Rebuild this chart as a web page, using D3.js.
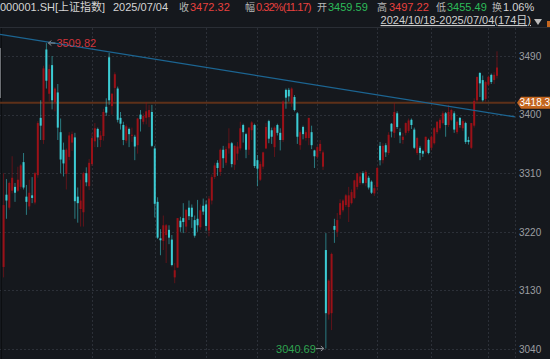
<!DOCTYPE html>
<html>
<head>
<meta charset="utf-8">
<script src="https://cdn.jsdelivr.net/npm/d3@7"></script>
<style>
body { margin: 0; background: #15181d; overflow: hidden; }
svg { display: block; }
text { font-family: "Liberation Sans", "Noto Sans CJK SC", sans-serif; }
</style>
</head>
<body>
<svg id="chart" width="550" height="359"></svg>
<script>
// trading days, 2024/10/18 - 2025/07/04
const dates = [
	'2024/10/18','2024/10/21','2024/10/22','2024/10/23','2024/10/24','2024/10/25','2024/10/28','2024/10/29','2024/10/30','2024/10/31',
	'2024/11/01','2024/11/04','2024/11/05','2024/11/06','2024/11/07','2024/11/08','2024/11/11','2024/11/12','2024/11/13','2024/11/14','2024/11/15',
	'2024/11/18','2024/11/19','2024/11/20','2024/11/21','2024/11/22','2024/11/25','2024/11/26','2024/11/27','2024/11/28','2024/11/29',
	'2024/12/02','2024/12/03','2024/12/04','2024/12/05','2024/12/06','2024/12/09','2024/12/10','2024/12/11','2024/12/12','2024/12/13','2024/12/16',
	'2024/12/17','2024/12/18','2024/12/19','2024/12/20','2024/12/23','2024/12/24','2024/12/25','2024/12/26','2024/12/27','2024/12/30','2024/12/31',
	'2025/01/02','2025/01/03','2025/01/06','2025/01/07','2025/01/08','2025/01/09','2025/01/10','2025/01/13','2025/01/14','2025/01/15','2025/01/16',
	'2025/01/17','2025/01/20','2025/01/21','2025/01/22','2025/01/23','2025/01/24','2025/01/27',
	'2025/02/05','2025/02/06','2025/02/07','2025/02/10','2025/02/11','2025/02/12','2025/02/13','2025/02/14','2025/02/17','2025/02/18','2025/02/19',
	'2025/02/20','2025/02/21','2025/02/24','2025/02/25','2025/02/26','2025/02/27','2025/02/28',
	'2025/03/03','2025/03/04','2025/03/05','2025/03/06','2025/03/07','2025/03/10','2025/03/11','2025/03/12','2025/03/13','2025/03/14','2025/03/17',
	'2025/03/18','2025/03/19','2025/03/20','2025/03/21','2025/03/24','2025/03/25','2025/03/26','2025/03/27','2025/03/28','2025/03/31',
	'2025/04/01','2025/04/02','2025/04/03','2025/04/07','2025/04/08','2025/04/09','2025/04/10','2025/04/11','2025/04/14','2025/04/15','2025/04/16',
	'2025/04/17','2025/04/18','2025/04/21','2025/04/22','2025/04/23','2025/04/24','2025/04/25','2025/04/28','2025/04/29','2025/04/30',
	'2025/05/06','2025/05/07','2025/05/08','2025/05/09','2025/05/12','2025/05/13','2025/05/14','2025/05/15','2025/05/16','2025/05/19','2025/05/20',
	'2025/05/21','2025/05/22','2025/05/23','2025/05/26','2025/05/27','2025/05/28','2025/05/29','2025/05/30',
	'2025/06/03','2025/06/04','2025/06/05','2025/06/06','2025/06/09','2025/06/10','2025/06/11','2025/06/12','2025/06/13','2025/06/16','2025/06/17',
	'2025/06/18','2025/06/19','2025/06/20','2025/06/23','2025/06/24','2025/06/25','2025/06/26','2025/06/27','2025/06/30',
	'2025/07/01','2025/07/02','2025/07/03','2025/07/04'
]

const opens = [
	3166,3277,3257,3283,3289,3283,3289,3327,3274,3259,
	3276,3265,3307,3395,3361,3500,3432,3476,3419,3434,3373,3346,3309,3335,3357,3365,3274,3255,3250,3310,3290,
	3324,3359,3378,3361,3367,3412,3488,3413,3441,3440,3395,3384,3360,3378,3368,3366,3353,3400,3389,3395,3396,3404,
	3348,3266,3210,3206,3215,3223,3208,3150,3165,3237,3241,3228,3257,3257,3238,3240,3227,3260,
	3262,3222,3268,3304,3326,3312,3346,3326,3348,3356,3323,3340,3348,3384,3370,3346,3376,3384,
	3330,3300,3320,3348,3390,3376,3350,3384,3372,3361,3438,3438,3418,3427,3402,3353,3381,3364,3364,3373,3345,
	3335,3344,3320,3192,3093,3095,3229,3220,3246,3253,3261,3258,3264,3272,3289,3295,3310,3295,3303,3297,3279,
	3289,3352,3330,3353,3341,3386,3372,3402,3373,3361,3372,3375,3392,3377,3341,3349,3344,3343,3361,
	3349,3356,3373,3379,3387,3402,3384,3392,3402,3373,3395,3379,3387,3361,3349,3383,3422,3464,3453,3424,
	3446,3461,3453,3459.59
]

const highs = [
	3310,3301,3297,3336,3295,3320,3324,3341,3292,3300,
	3304,3312,3390,3422,3475,3509.82,3477,3490,3442,3447,3394,3357,3348,3373,3374,3372,3288,3300,3312,3319,3332,
	3372,3387,3380,3375,3409,3425,3494.86,3433,3465,3443,3404,3389,3385,3380,3380,3369,3395,3407,3402,3419,3415,3415,
	3352,3273,3224,3245,3232,3230,3215,3172,3241,3243,3264,3254,3268,3262,3245,3269,3262,3271,
	3268,3275,3308,3326,3330,3348,3352,3351,3379,3358,3353,3358,3389,3386,3372,3381,3390,3386,
	3338,3328,3343,3387,3392,3380,3382,3386,3379,3422,3440,3441,3442,3430,3404,3376,3383,3376,3395,3383,3346,
	3352,3361,3345,3218,3147,3188,3240,3249,3270,3270,3278,3289,3285,3300,3310,3312,3313,3315,3306,3299,3292,
	3320,3358,3356,3356,3373,3387,3418,3405,3379,3372,3388,3394,3394,3380,3366,3352,3346,3366,3363,
	3368,3381,3390,3395,3405,3404,3415,3409,3405,3391,3396,3393,3389,3366,3387,3425,3458,3465,3460,3452,
	3460,3463,3465,3497.22
]

const lows = [
	3150,3240,3254,3279,3266,3281,3286,3285,3246,3254,
	3264,3262,3303,3361,3355,3440,3420,3408,3405,3361,3310,3305,3285,3330,3344,3240,3234,3228,3228,3290,3284,
	3321,3350,3350,3350,3360,3398,3415,3400,3421,3388,3377,3353,3356,3350,3358,3330,3340,3374,3385,3385,3381,3350,
	3242,3209,3184,3192,3172,3201,3167,3141,3165,3220,3218,3219,3238,3226,3211,3220,3223,3246,
	3221,3213,3262,3301,3306,3306,3318,3322,3340,3319,3315,3330,3345,3357,3333,3338,3361,3318,
	3290,3298,3316,3347,3356,3355,3335,3368,3345,3358,3409,3420,3412,3405,3355,3346,3362,3360,3353,3347,3318,
	3332,3340,3315,3040.69,3085,3069,3203,3212,3240,3250,3258,3235,3262,3270,3285,3292,3293,3290,3285,3278,3275,
	3283,3322,3325,3335,3338,3365,3364,3378,3356,3355,3368,3372,3378,3347,3338,3330,3335,3340,3339,
	3345,3354,3370,3376,3385,3366,3381,3390,3372,3370,3380,3375,3355,3354,3347,3380,3418,3427,3420,3420,
	3444,3447,3447,3455.49
]

const closes = [
	3261,3268,3295,3303,3280,3300,3322,3288,3266,3280,
	3272,3310,3387,3383,3471,3452,3470,3422,3440,3380,3331,3325,3346,3368,3370,3267,3264,3268,3310,3296,3326,
	3364,3379,3365,3368,3404,3403,3422,3432,3462,3392,3386,3361,3382,3370,3369,3351,3394,3393,3398,3405,3407,3352,
	3263,3211,3207,3230,3230,3211,3169,3161,3241,3227,3235,3254,3244,3243,3214,3230,3253,3251,
	3229,3271,3304,3322,3318,3346,3333,3347,3356,3324,3352,3351,3379,3373,3346,3380,3388,3321,
	3317,3324,3342,3381,3363,3366,3380,3372,3361,3420,3426,3428,3440,3407,3366,3373,3370,3373,3395,3353,3336,
	3350,3355,3342,3095,3145,3186,3223,3238,3264,3268,3276,3276,3281,3299,3310,3305,3295,3312,3288,3280,3287,
	3318,3330,3352,3342,3369,3374,3404,3381,3368,3366,3387,3391,3384,3349,3364,3341,3340,3366,3341,
	3366,3379,3389,3392,3402,3384,3404,3407,3377,3389,3384,3390,3358,3358,3387,3421,3458,3448,3422,3450,
	3458,3450,3461.15,3472.32
]

const yTicks = [3490, 3400, 3310, 3220, 3130, 3040]
const gridDates = ['2024/12/02','2025/01/02','2025/02/05','2025/03/03','2025/04/01','2025/05/06','2025/06/03','2025/07/01']
const trendDates = ['2024/11/08', '2024/12/10']
const markLevel = 3418.3
const stockName = '000001.SH[上证指数]'
const turnover = '1.06%'

const width = 550, height = 359
const plotRight = 515, plotTop = 28

const upColor = '#9a1118'
const downColor = '#3cccd4'
const red = '#e8413f'
const green = '#2dbb5a'
const labelGray = '#b8b8b8'

let svg = d3.select('#chart')
svg.append('rect').attr('width', width).attr('height', height).attr('fill', '#15181d')

let x = d3.scaleBand().domain(dates).range([2.17, 2.17 + dates.length * 2.852])
let cx = d => x(d) + x.bandwidth() / 2
let y = d3.scaleLinear().domain([3040, 3490]).range([349, 56])

// separator under header
svg.append('line')
	.attr('x1', 0).attr('x2', width).attr('y1', 27.5).attr('y2', 27.5)
	.attr('stroke', '#2a2e35')

svg.append('defs').append('clipPath').attr('id', 'plot')
	.append('rect').attr('x', 0).attr('y', plotTop).attr('width', plotRight).attr('height', height - plotTop)

let grid = svg.append('g')
grid.selectAll('line.h')
	.data(yTicks)
	.join('line')
	.attr('class', 'h')
	.attr('x1', 0).attr('x2', plotRight)
	.attr('y1', d => Math.round(y(d)) + 0.5).attr('y2', d => Math.round(y(d)) + 0.5)
	.attr('stroke', '#2c3038').attr('stroke-dasharray', '2,2')
grid.selectAll('line.v')
	.data(gridDates)
	.join('line')
	.attr('class', 'v')
	.attr('x1', d => Math.round(cx(d)) + 0.5).attr('x2', d => Math.round(cx(d)) + 0.5)
	.attr('y1', plotTop).attr('y2', height)
	.attr('stroke', '#2c3038').attr('stroke-dasharray', '2,2')
grid.append('line')
	.attr('x1', plotRight + 0.5).attr('x2', plotRight + 0.5)
	.attr('y1', plotTop).attr('y2', height)
	.attr('stroke', '#2c3038').attr('stroke-dasharray', '2,2')

// left border + scroll mark
svg.append('line').attr('x1', 1.5).attr('x2', 1.5).attr('y1', plotTop).attr('y2', height).attr('stroke', '#0c0e11')
svg.append('line').attr('x1', 0.5).attr('x2', 0.5).attr('y1', 48).attr('y2', 98).attr('stroke', '#6c6f74')

let plot = svg.append('g').attr('clip-path', 'url(#plot)')

// level line
plot.append('line')
	.attr('x1', 0).attr('x2', plotRight)
	.attr('y1', y(markLevel)).attr('y2', y(markLevel))
	.attr('stroke', '#5e3019').attr('stroke-width', 2)

let candles = dates.map((d, i) => ({date: d, o: opens[i], h: highs[i], l: lows[i], c: closes[i]}))

let cg = plot.append('g')
	.selectAll('g')
	.data(candles)
	.join('g')
	.attr('stroke', d => d.c >= d.o ? upColor : downColor)
	.attr('fill', d => d.c >= d.o ? upColor : downColor)

cg.append('line')
	.attr('x1', d => cx(d.date)).attr('x2', d => cx(d.date))
	.attr('y1', d => y(d.h)).attr('y2', d => y(d.l))
	.attr('stroke-width', 1)
	.attr('stroke-opacity', 0.55)

cg.append('rect')
	.attr('x', d => cx(d.date) - 1)
	.attr('width', 2)
	.attr('y', d => y(Math.max(d.o, d.c)))
	.attr('height', d => Math.max(1, Math.abs(y(d.o) - y(d.c))))
	.attr('stroke', 'none')

// trend line through the two highs, stretched across the plot
let p1 = [cx(trendDates[0]), y(highs[dates.indexOf(trendDates[0])])]
let p2 = [cx(trendDates[1]), y(highs[dates.indexOf(trendDates[1])])]
let slope = (p2[1] - p1[1]) / (p2[0] - p1[0])
plot.append('line')
	.attr('x1', 0).attr('y1', p1[1] - p1[0] * slope - 1.5)
	.attr('x2', plotRight).attr('y2', p1[1] + (plotRight - p1[0]) * slope + 1)
	.attr('stroke', '#1c6592').attr('stroke-width', 1.3)

// high / low marks
let hi = d3.maxIndex(highs), lo = d3.minIndex(lows)
let hx = cx(dates[hi]), hy = y(highs[hi])
svg.append('path')
	.attr('d', `M${hx + 2},${hy} L${hx + 9},${hy} M${hx + 5},${hy - 2.5} L${hx + 2},${hy} L${hx + 5},${hy + 2.5}`)
	.attr('stroke', '#8a8d92').attr('fill', 'none')
svg.append('text')
	.attr('x', hx + 10).attr('y', hy + 4)
	.attr('font-size', 11).attr('fill', '#d0343c')
	.text(highs[hi].toFixed(2))

let lx = cx(dates[lo]), ly = y(lows[lo])
svg.append('path')
	.attr('d', `M${lx - 10},${ly} L${lx - 2},${ly} M${lx - 5},${ly - 2.5} L${lx - 2},${ly} L${lx - 5},${ly + 2.5}`)
	.attr('stroke', '#8a8d92').attr('fill', 'none')
svg.append('text')
	.attr('x', lx - 10).attr('y', ly + 4)
	.attr('text-anchor', 'end')
	.attr('font-size', 11).attr('fill', '#2fa34f')
	.text(lows[lo].toFixed(2))

// right axis
let axis = svg.append('g')
	.attr('transform', `translate(${plotRight + 2},0)`)
	.call(d3.axisRight(y).tickValues(yTicks).tickFormat(d3.format('d')).tickSize(0).tickPadding(2))
axis.select('.domain').remove()
axis.selectAll('text')
	.attr('font-family', '"Liberation Sans", sans-serif')
	.attr('font-size', 10)
	.attr('fill', '#9c9ea2')

// level tag
let ty = y(markLevel)
svg.append('path')
	.attr('d', `M${plotRight + 2},${ty} L${plotRight + 6},${ty - 6} L${width},${ty - 6} L${width},${ty + 6} L${plotRight + 6},${ty + 6} Z`)
	.attr('fill', '#c4661f')
svg.append('text')
	.attr('x', plotRight + 4.5).attr('y', ty + 3.5)
	.attr('font-size', 10).attr('fill', '#ffffff')
	.text(markLevel.toFixed(1))

// header: [x, text, colour, font size, letter spacing]
let n = dates.length - 1
let chg = closes[n] - closes[n - 1]
let pct = chg / closes[n - 1] * 100
let header = [
	[0, stockName, '#d4d4d4', 11, 0],
	[113, dates[n], '#d4d4d4', 11, 0],
	[179, '收', labelGray, 10, 0],
	[190, closes[n].toFixed(2), red, 11, 0],
	[245, '幅', labelGray, 10, 0],
	[256, pct.toFixed(2) + '%(' + chg.toFixed(2) + ')', red, 11, -0.9],
	[317, '开', labelGray, 10, 0],
	[328, opens[n].toFixed(2), opens[n] >= closes[n - 1] ? red : green, 11, 0],
	[377, '高', labelGray, 10, 0],
	[389, highs[n].toFixed(2), red, 11, 0],
	[436, '低', labelGray, 10, 0],
	[447, lows[n].toFixed(2), green, 11, 0],
	[492, '换', labelGray, 10, 0],
	[503, turnover, '#d4d4d4', 11, 0]
]
svg.append('g')
	.selectAll('text')
	.data(header)
	.join('text')
	.attr('x', d => d[0]).attr('y', 10.5)
	.attr('font-size', d => d[3])
	.attr('fill', d => d[2])
	.attr('letter-spacing', d => d[4])
	.text(d => d[1])

svg.append('text')
	.attr('x', 531).attr('y', 24)
	.attr('text-anchor', 'end')
	.attr('font-size', 11).attr('fill', '#cfcfcf')
	.attr('text-decoration', 'underline')
	.text(dates[0] + '-' + dates[n] + '(' + dates.length + '日)')
svg.append('path')
	.attr('d', 'M534,19 L542,19 L538,25 Z')
	.attr('fill', '#bdbdbd')
svg.append('rect').attr('x', 547).attr('y', 21).attr('width', 3).attr('height', 6).attr('fill', '#c4661f')
</script>
</body>
</html>
